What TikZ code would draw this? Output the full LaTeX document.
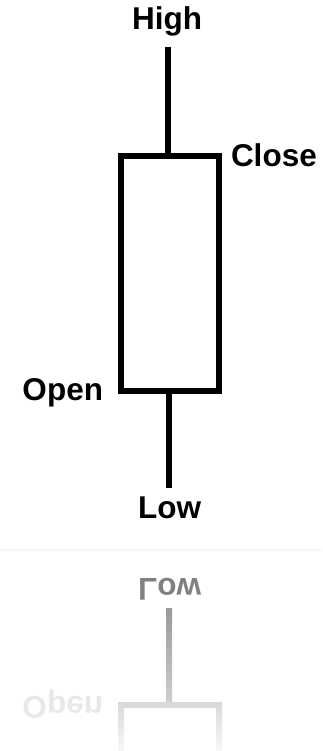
\documentclass[tikz,border=0pt]{standalone}
\usepackage{fontspec}
\setmainfont{Liberation Sans}
\begin{document}
\begin{tikzpicture}[x=1pt,y=1pt,
  lbl/.style={inner sep=0pt,outer sep=0pt,font=\fontsize{31.5}{36}\selectfont\bfseries},
  candle/.style={draw=black,line width=6pt,minimum width=98pt,minimum height=235pt,inner sep=0pt,outer sep=0pt},
  wick/.style={draw=black,line width=6pt},
  refl/.style={inner sep=0pt,outer sep=0pt,font=\fontsize{31.5}{36}\selectfont\bfseries,yscale=-1}]
\useasboundingbox (0,0) rectangle (322,-751);
% main candle
\node[candle] (box) at (170,-273.5) {};
\node[lbl,anchor=base] (high) at (167,-30) {High};
\node[lbl,anchor=base west] (close) at (231,-167) {Close};
\node[lbl,anchor=base east] (open) at (103,-400) {Open};
\node[lbl,anchor=base] (low) at (169.5,-518) {Low};
\coordinate (hightop) at (168,-47);
\coordinate (lowbot) at (169,-488);
\draw[wick] (hightop) -- (hightop |- box.north);
\draw[wick] (lowbot |- box.south) -- (lowbot);
% faint floor line
\draw[line width=1.5pt,color=black!4] (0,-550) -- (322,-550);
% reflection
\node[refl,anchor=base,text=black!50] (rlow) at (169.5,-578) {Low};
\node[refl,anchor=base east,text=black!9] (ropen) at (103,-696) {Open};
\shade[top color=black!40,bottom color=black!18] (166,-608) rectangle (172,-705);
\fill[black!15] (118,-702) rectangle (222,-708);
\shade[top color=black!14,bottom color=black!3] (118,-705) rectangle (124,-751);
\shade[top color=black!14,bottom color=black!3] (216,-705) rectangle (222,-751);
\end{tikzpicture}
\end{document}
